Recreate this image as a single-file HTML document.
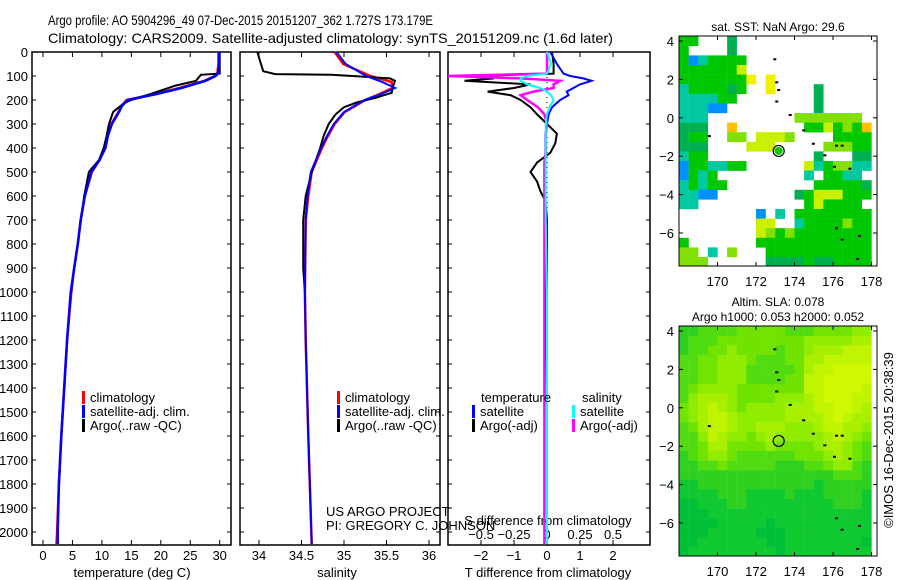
<!DOCTYPE html>
<html><head><meta charset="utf-8"><style>
html,body{margin:0;padding:0;background:#fff;width:900px;height:580px;overflow:hidden}
svg{display:block;font-family:"Liberation Sans",sans-serif}
</style></head><body>
<svg id="c" width="900" height="580" viewBox="0 0 900 580"></svg>
<script>
// ---------- data ----------
const tDepth=[0,50,90,100,120,150,175,200,225,250,300,350,400,450,500,600,700,800,900,1000,1200,1400,1600,1800,2000,2050];
const tClim=[29.8,29.8,29.6,29.2,27.4,23.2,19,14.2,13.3,12.8,11.6,11,10.6,9.6,8.3,7.1,6.4,5.9,5.3,4.8,4.1,3.6,3.1,2.7,2.4,2.3];
const tSat=[29.9,29.9,29.7,29.3,27.6,23.5,19.3,14.4,13.4,12.9,11.7,11,10.6,9.6,8.2,7.1,6.4,5.9,5.3,4.7,4.1,3.6,3.1,2.7,2.5,2.5];
const aDepth=[0,90,95,110,120,140,175,200,210,230,250,300,350,400,450,500,600,700,800,900,1000];
const tArgo=[30.0,30.0,26.8,26.3,26,22.5,18.3,15,14,12.9,11.9,11.2,10.8,10.3,9.5,7.8,7.0,6.4,5.9,5.3,4.8];
const sDepth=[0,50,100,125,150,175,200,225,250,300,350,400,500,600,700,1000,1200,1600,2050];
const sClim=[34.89,34.99,35.31,35.56,35.57,35.42,35.25,35.13,35.01,34.89,34.81,34.74,34.62,34.58,34.55,34.54,34.55,34.58,34.62];
const sSat=[34.91,35.02,35.26,35.45,35.6,35.44,35.24,35.12,35.0,34.88,34.8,34.73,34.61,34.57,34.55,34.54,34.55,34.58,34.62];
const saDepth=[0,80,92,95,100,110,120,150,170,190,210,230,260,300,350,400,500,600,700,900,1000];
const sArgo=[33.98,34.05,34.19,34.85,35.1,35.54,35.6,35.57,35.56,35.38,35.15,35.0,34.9,34.82,34.76,34.72,34.62,34.55,34.52,34.52,34.54];
const dDepth=[0,50,90,100,110,120,135,150,165,180,200,230,260,300,340,380,420,460,500,540,580,620,700,1000,1500,2050];
const dTSat=[0.1,0.3,0.5,0.7,1.1,1.35,1.0,0.8,0.6,0.65,0.4,0.15,0.05,0,-0.05,-0.05,-0.05,-0.05,-0.05,-0.05,-0.05,-0.05,-0.03,-0.03,0,0];
const dTArgo=[0.15,0.2,0.2,-2.2,-1.6,-2.5,-0.5,-1.0,-1.8,-1.1,-0.8,-0.5,-0.3,0,0.3,0.25,0.1,-0.3,-0.5,-0.3,-0.2,-0.05,0,0,0,0];
const dSSat=[0,0.03,0,-0.15,-0.2,-0.2,-0.15,-0.05,0,0.03,0.05,0.02,0,-0.01,-0.01,-0.01,-0.01,-0.01,-0.01,-0.01,-0.01,-0.01,-0.01,0,0,0];
const dSArgo=[0,0,0,-0.75,-0.2,0.1,0.05,0.05,-0.1,-0.2,-0.15,-0.07,-0.02,0,-0.01,-0.01,-0.01,-0.02,-0.02,-0.02,-0.02,-0.02,-0.02,-0.02,-0.02,-0.02];
const depthTicks=[0,100,200,300,400,500,600,700,800,900,1000,1100,1200,1300,1400,1500,1600,1700,1800,1900,2000];
const tTicks=[0,5,10,15,20,25,30];
const sTicks=[34,34.5,35,35.5,36];
const dtTicks=[-2,-1,0,1,2];
const dsTicks=[-0.5,-0.25,0,0.25,0.5];
const lonTicks=[170,172,174,176,178];
const latTicks=[4,2,0,-2,-4,-6];
// SST map cells (0.5 deg, lon 168 -> 178, lat 4.25 down)
const sstRows=[
"gg...d..............",
"g....d..............",
"gbcgggg.............",
"ggggggy.............",
"gggggggY.Y..........",
"cggggdg..Y....d.....",
"ccccgg........d.....",
"cccbb.........d.....",
"ccc.........lllllll.",
"ddd..o.......ggyglgo",
"dgg..ll.yyyl....gggg",
"ddd....yyy.....lllgg",
"cgg...........d...dd",
"bggccgg......ycgllcc",
"bgcg.........c.ggcc.",
"cgcgg.........gggggd",
"ccbb........dgyyyggg",
"cc...........gygggg",
"........b.c.gggggggg",
"........yy..cgggglgg",
"........ylglgggggggg",
"g.......gggggggggggg",
"ll.c.l...ggggggggggg",
"lll......ddddgddgggg",
"...yy.yyyyddcdcdcc.c"];
// SLA map values 0-9 (0.5 deg cells)
const slaRows=[
"33444455555444555566",
"34445555555556666677",
"34455655554556777888",
"44556665444557788888",
"44556664444457889999",
"44556664444558899999",
"45666655555558899998",
"46777655556667899988",
"56787656666777889987",
"56788766666777789877",
"45788766777666788776",
"44687665676666678765",
"44577555565555677654",
"34566544444455567654",
"33445444443334456643",
"33333333333333334443",
"22333333333333233333",
"22223332222322233332",
"11222332222222223332",
"11122222222222222222",
"11112222212222222222",
"11122222111222222222",
"11222222211222222221",
"12222222221222222222",
"22222222222222222222"];
// ---------- helpers ----------
const svg=document.getElementById('c');
const NS='http://www.w3.org/2000/svg';
function el(tag,attrs,parent){const e=document.createElementNS(NS,tag);for(const k in attrs)e.setAttribute(k,attrs[k]);(parent||svg).appendChild(e);return e;}
function txt(x,y,s,anchor,size,parent){const t=el('text',{x:x,y:y,'font-size':size||13,'text-anchor':anchor||'start',fill:'#000'},parent);t.textContent=s;return t;}
const yD=d=>52+d*0.24;
const xT=v=>43+v*5.89;
const xS=v=>259+(v-34)*85;
const xDT=v=>547+v*33;
const xDS=v=>547+v*132;
function line(xs,ds,fx,color,w,name){
  const pts=xs.map((v,i)=>fx(v).toFixed(1)+','+yD(ds[i]).toFixed(1)).join(' ');
  const p=el('polyline',{points:pts,fill:'none',stroke:color,'stroke-width':w||2});
  
  
}
// title
const t1=txt(48,25,'Argo profile: AO 5904296_49 07-Dec-2015 20151207_362 1.727S 173.179E','start',14);
t1.setAttribute('textLength','385');
t1.setAttribute('lengthAdjust','spacingAndGlyphs');


const t2=txt(48,43,'Climatology: CARS2009. Satellite-adjusted climatology: synTS_20151209.nc (1.6d later)','start',14);
t2.setAttribute('textLength','565');
t2.setAttribute('lengthAdjust','spacingAndGlyphs');


// panels
function frame(x0,x1,name){
  const r=el('rect',{x:x0,y:52,width:x1-x0,height:493,fill:'none',stroke:'#000','stroke-width':1.5});
  
  
}
frame(32,231,'temperature-panel-frame');
frame(240,440,'salinity-panel-frame');
frame(448,650,'difference-panel-frame');
// depth ticks
depthTicks.forEach(d=>{
  const t=txt(28,yD(d)+5,String(d),'end',13);
  
  
  [[32,36],[227,231],[240,244],[436,440],[448,452],[646,650]].forEach(a=>el('line',{x1:a[0],x2:a[1],y1:yD(d),y2:yD(d),stroke:'#000'}));
});
function xticks(vals,fx,y,lbl){
  vals.forEach(v=>{
    const x=fx(v);
    el('line',{x1:x,x2:x,y1:52,y2:57,stroke:'#000'});
    el('line',{x1:x,x2:x,y1:540,y2:545,stroke:'#000'});
    if(lbl!==false){const t=txt(x,y,String(v).replace('-','\u2212'),'middle',13);
    
    }
  });
}
xticks(tTicks,xT,560);
xticks(sTicks,xS,560);
xticks(dtTicks,xDT,560);
dsTicks.forEach(v=>{const t=txt(xDS(v),539,String(v).replace('-','\u2212'),'middle',13);
  
  });
[['temperature (deg C)',132],['salinity',337],['T difference from climatology',548]].forEach(a=>{
  const t=txt(a[1],577,a[0],'middle',13);
  
  
});
const st=txt(548,525,'S difference from climatology','middle',13);


// zero dotted line
el('line',{x1:547,x2:547,y1:52,y2:545,stroke:'#000','stroke-dasharray':'1,4'});
// series
line(tClim,tDepth,xT,'#f00',2.5,'temperature-climatology-line');
line(tArgo,aDepth,xT,'#000',2,'temperature-argo-line');
line(tSat,tDepth,xT,'#00f',2.5,'temperature-satellite-line');
line(sClim,sDepth,xS,'#f00',2.5,'salinity-climatology-line');
line(sArgo,saDepth,xS,'#000',2,'salinity-argo-line');
line(sSat,sDepth,xS,'#00f',2,'salinity-satellite-line');
line(dTArgo,dDepth,xDT,'#000',2,'t-diff-argo-line');
line(dTSat,dDepth,xDT,'#00f',2,'t-diff-satellite-line');
line(dSArgo,dDepth,xDS,'#f0f',2.5,'s-diff-argo-line');
line(dSSat,dDepth,xDS,'#0ff',2,'s-diff-satellite-line');
// legends
function leg(x,y,c,s){el('rect',{x:x,y:y-11,width:3,height:13,fill:c});const t=txt(x+8,y,s,'start',13);
  }
leg(82,402,'#f00','climatology');leg(82,416,'#00f','satellite-adj. clim.');leg(82,430,'#000','Argo(..raw -QC)');
leg(337,402,'#f00','climatology');leg(337,416,'#00f','satellite-adj. clim.');leg(337,430,'#000','Argo(..raw -QC)');
txt(481,402,'temperature','start',13);txt(582,402,'salinity','start',13);
leg(472,416,'#00f','satellite');leg(472,430,'#000','Argo(-adj)');
leg(572,416,'#0ff','satellite');leg(572,430,'#f0f','Argo(-adj)');
txt(326,516,'US ARGO PROJECT','start',13);txt(326,530,'PI: GREGORY C. JOHNSON','start',13);
// maps
const lonX=(top)=>v=>679+(v-168)*19.25;
const latY=(y0)=>v=>y0+(4-v)*19.2;
function map(y0,rows,colorFn,name,title){
  const fx=lonX(), fy=latY(y0+5);
  const g=el('g',{});
  
  
  el('clipPath',{id:name+'-clip'},g);
  el('rect',{x:679,y:y0,width:198,height:230},g.lastChild);
  const cg=el('g',{'clip-path':'url(#'+name+'-clip)'},g);
  rows.forEach((r,i)=>{for(let j=0;j<r.length;j++){const c=colorFn(r[j]);if(!c)continue;
    const lon=168+j*0.5, lat=4.25-i*0.5;
    el('rect',{x:fx(lon),y:fy(lat),width:9.8,height:9.8,fill:c},cg);}});
  el('rect',{x:679,y:y0,width:198,height:230,fill:'none',stroke:'#000'},g);
  lonTicks.forEach(v=>{const x=fx(v);el('line',{x1:x,x2:x,y1:y0,y2:y0+4,stroke:'#000'},g);el('line',{x1:x,x2:x,y1:y0+226,y2:y0+230,stroke:'#000'},g);txt(x,y0+250,String(v),'middle',13,g);});
  latTicks.forEach(v=>{const y=fy(v);el('line',{x1:679,x2:683,y1:y,y2:y,stroke:'#000'},g);el('line',{x1:873,x2:877,y1:y,y2:y,stroke:'#000'},g);txt(674,y+5,String(v).replace('-','\u2212'),'end',13,g);});
  // argo location
  el('circle',{cx:fx(173.179),cy:fy(-1.727),r:5.5,fill:'none',stroke:'#000','stroke-width':1.2},g);
  // islands
  [[172.9,3.1],[173.0,1.9],[173.1,1.5],[173.0,0.9],[173.7,0.2],[174.4,-0.6],[174.9,-1.3],[175.5,-1.9],[176.1,-1.4],[176.4,-1.4],[169.5,-0.9],[176,-2.5],[176.8,-2.6],[176.1,-5.7],[176.4,-6.3],[177.3,-6.1],[177.2,-7.3]].forEach(p=>el('rect',{x:fx(p[0]),y:fy(p[1]),width:3,height:2,fill:'#000'},g));
  title.forEach((t,i)=>txt(778,y0-(title.length-i)*15+10,t,'middle',12,g));
  return {fx,fy,g};
}
const sstCol={g:'#00c800',d:'#00b050',c:'#00c8a0',b:'#0090ff',y:'#c8f000',Y:'#f0f000',l:'#80e000',o:'#ffc000'};
const m1=map(36,sstRows,ch=>sstCol[ch],'sst-map',['sat. SST: NaN Argo: 29.6']);
el('circle',{cx:m1.fx(173.179),cy:m1.fy(-1.727),r:4,fill:'#00c800'},m1.g);
const slaPal=['#00b840','#00c038','#10c830','#30d020','#50dc10','#70e400','#90ec00','#a8f000','#c0f400','#d0f800'];
map(326,slaRows,ch=>slaPal[+ch],'sla-map',['Altim. SLA: 0.078','Argo h1000: 0.053 h2000: 0.052']);
const ts=txt(0,0,'\u00a9IMOS 16-Dec-2015 20:38:39','middle',13);
ts.setAttribute('transform','translate(893,440) rotate(-90)');


</script>
</body></html>
